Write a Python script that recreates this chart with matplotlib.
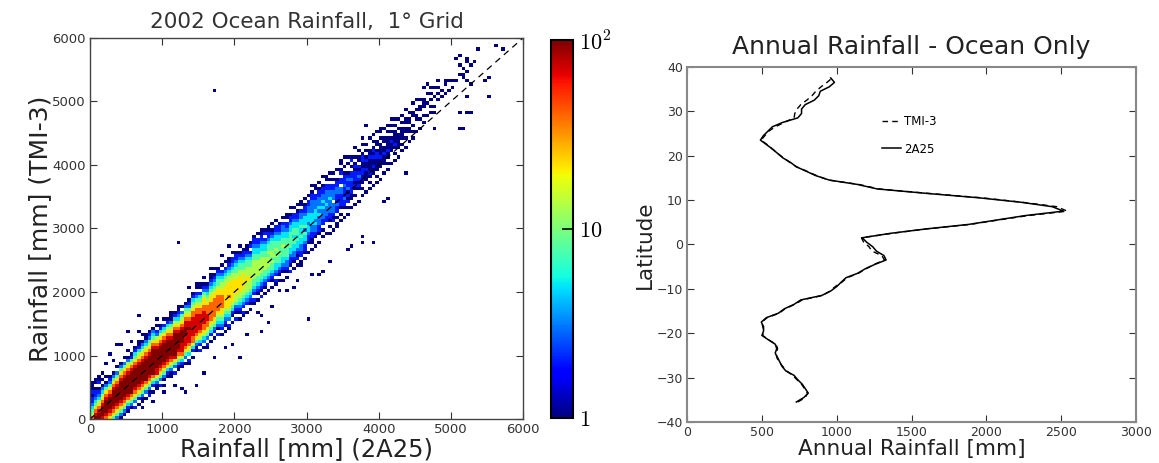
import numpy as np
import matplotlib
matplotlib.use("Agg")
import matplotlib.pyplot as plt
from matplotlib.colors import LogNorm

plt.rcParams["mathtext.fontset"] = "cm"
plt.rcParams["font.family"] = "DejaVu Sans"

# ---- left panel: 2D histogram, 50 mm bins (120 x 120)
bin_edges = np.arange(0, 6001, 50)

# count code
code_counts = {'1': 1, '2': 2, '3': 3, '4': 5, '5': 8, '6': 13,
               '7': 22, '8': 40, '9': 70, 'A': 100}

# one entry per 2A25 column: (first TMI row, codes going up), '.' = empty
band_columns = [
    (0, "8654322121.1"),
    (0, "A987543221.1"),
    (0, "AA98764321.21"),
    (0, "9AAA9876431.1"),
    (0, "89AAAA987531.1"),
    (0, "789AAAA9875321"),
    (0, "5789AAAAA987531"),
    (0, "35789AAAAA98753.1"),
    (0, "135789AAAAAA987531"),
    (1, "135789AAAAAA98753.1"),
    (2, "124689AAAAAA987631"),
    (3, "13578AAAAAAA986521"),
    (3, "2.35789AAAAAA9875421"),
    (4, "1.25789AAAAAA98764211"),
    (5, "1135789AAAAAA9876431.1"),
    (6, "1.3578AAAAAAA98764311"),
    (7, "2135789AAAAAA98765321"),
    (8, "1.2468AAAAAAAA9875431"),
    (9, "1135799AAAAAA987632.1"),
    (10, "2.35789AAAAAA9876421"),
    (10, "1.135789AAAAAA987542.1"),
    (13, "124789AAAAAA9876421"),
    (13, "1135789AAAAA98765311"),
    (14, "2.3579AAAAAAA9876421"),
    (15, "1135789AAAAA98764321"),
    (16, "12468999AAAA987653.1"),
    (17, "1.3578999AAA99876531"),
    (17, "12.46789999A998765321"),
    (19, "1.2468899999988765421"),
    (21, "1135789999998876532.1"),
    (21, "2.24678999998876542.11"),
    (22, "1.3467889999887765321"),
    (22, "12.356788998887654321"),
    (24, "1.24567888888776543211"),
    (25, "1.2356788888877654321.1"),
    (26, "2.13456788888776554321"),
    (26, "1.2345677888877665432.1"),
    (27, "1.1234567777777665432.1"),
    (28, "12.34567778777766543211"),
    (30, "1.1245677777776654322.1"),
    (31, "2.12356677777665543221"),
    (31, "1.12345667777766554321.1"),
    (32, "12.2345667776765543221"),
    (33, "1..2345666776665543211"),
    (34, "1.12345666766655432.21"),
    (36, "12.2345566666655443221"),
    (37, "1.123455666665544322.1"),
    (38, "2.12345566666554432211"),
    (39, "1.1234556666554432.21"),
    (40, "1..234556665655432211"),
    (41, "1.12345565665554321.1"),
    (42, "12.2344556565544322.1"),
    (43, "1.12345556555443221"),
    (43, "1..1234455565544332.1"),
    (44, "1.1233455555544322.11"),
    (46, "2.12234455555443221.1"),
    (47, "1.1233445545544322.1"),
    (48, "1.2123445455443221.1"),
    (48, "11.223344544544332.11"),
    (50, "1.1223445354443221.1"),
    (52, "1..12234434443322.1"),
    (53, "1.11223344443333221.1"),
    (54, "1..12334344433322.11"),
    (55, "1..122333434333221.1"),
    (57, "1.1.2233343433221..1"),
    (58, "1...223334333322.11"),
    (58, "1.1.122333343322.1.1"),
    (59, "1..212333.33322.1.1"),
    (60, "11.1.22322233221..1"),
    (62, "1.1.1222233.22.21.1"),
    (63, "1..122322232221.1..1"),
    (64, "1.1.2121322321..1.1"),
    (66, "1..112222322.1.21"),
    (67, "1..1.121222121.1..1"),
    (68, "1...12123212.11.1"),
    (70, "1.1.1212211221..1.1"),
    (71, "1...11121121.1.1"),
    (72, "1.1.121111211...1"),
    (73, "1...112112121.1.1"),
    (74, "1.1.1111221.11..1"),
    (75, "1...11121111.1.1"),
    (77, "1..111211.11..1"),
    (78, "1.1.1121111.1.1"),
    (80, "1...11121.1.1"),
    (81, "1.1.121111.1.1"),
    (82, "1..11111.1..1"),
    (84, "1.1.1111.1.1"),
    (85, "1..1.11.11..1"),
    (87, "1..11.11.1"),
    (88, "1.1.1..11..1"),
    (90, "1...11.1..1"),
    (91, "1..1..1..1"),
    (93, "1.1..1.1"),
    (95, "1...1..1"),
    (96, "1.1...1"),
    (98, "1..1..1"),
    (100, "1...1.1"),
    (101, "1.1"),
    (102, "1...1"),
    (103, "1..1"),
    (104, "1.1"),
    (106, "1"),
    (107, ".1"),
    (107, "1..1"),
    (109, "1"),
]

# single-count cells away from the band: (2A25 column, TMI row)
outlier_cells = [
    (13, 32), (18, 31), (22, 33), (24, 35), (10, 27), (13, 27), (16, 27),
    (8, 23), (7, 23), (5, 20), (10, 21), (3, 14), (2, 13), (1, 12), (0, 10),
    (4, 17), (6, 18), (11, 24), (20, 31), (27, 41), (29, 42), (24, 55),
    (38, 54), (36, 51), (33, 47), (31, 44),
    (23, 10), (25, 9), (29, 10), (14, 3), (8, 2), (10, 5), (11, 4), (26, 8),
    (31, 14), (34, 19), (41, 19), (39, 23), (43, 26), (47, 27), (47, 32),
    (49, 30), (46, 33), (50, 35), (52, 40), (54, 40), (56, 41), (57, 43),
    (60, 31), (64, 46), (61, 45), (63, 45), (66, 49), (71, 53), (72, 54),
    (75, 55), (78, 55), (75, 57), (37, 22), (20, 8), (17, 5),
    (82, 69), (81, 68), (87, 77), (76, 92), (80, 91), (83, 94), (86, 93),
    (69, 81), (76, 86), (34, 103), (102, 91), (102, 96), (104, 96),
    (110, 101), (104, 101), (109, 106), (110, 107), (99, 106), (101, 106),
    (104, 106), (107, 116), (112, 117), (114, 116), (102, 114), (101, 113),
    (104, 113), (104, 112), (102, 111), (102, 108), (103, 108), (93, 105),
    (94, 104), (92, 104), (96, 102), (93, 102), (98, 105), (105, 105),
    (105, 111), (106, 112), (103, 110), (105, 96), (103, 91), (95, 91),
    (90, 97), (91, 98), (92, 99), (94, 100), (89, 96), (90, 94), (92, 93),
    (95, 96),
]

# ---- right panel: zonal mean annual rainfall [mm]
latitude = [-35.5, -34.5, -33.5, -32.5, -31.5, -30.5, -29.5, -28.5, -27.5,
            -26.5, -25.5, -24.5, -23.5, -22.5, -21.5, -20.5, -19.5, -18.5,
            -17.5, -16.5, -15.5, -14.5, -13.5, -12.5, -11.5, -10.5, -9.5,
            -8.5, -7.5, -6.5, -5.5, -4.5, -3.5, -2.5, -1.5, -0.5, 0.5, 1.5,
            2.5, 3.5, 4.5, 5.5, 6.5, 7.5, 8.5, 9.5, 10.5, 11.5, 12.5, 13.5,
            14.5, 15.5, 16.5, 17.5, 18.5, 19.5, 20.5, 21.5, 22.5, 23.5, 24.5,
            25.5, 26.5, 27.5, 28.5, 29.5, 30.5, 31.5, 32.5, 33.5, 34.5, 35.5,
            36.5, 37.5]
rain_2a25 = [730, 780, 810, 790, 770, 740, 715, 660, 635, 620, 605, 589,
             599, 590, 544, 500, 511, 511, 496, 530, 610, 650, 715, 760,
             900, 960, 1000, 1030, 1062, 1140, 1190, 1255, 1330, 1315, 1265,
             1240, 1200, 1170, 1360, 1600, 1880, 2070, 2260, 2515, 2440,
             2230, 1950, 1600, 1270, 1140, 950, 860, 795, 730, 690, 640, 605,
             570, 530, 490, 510, 540, 570, 640, 740, 765, 765, 790, 850, 880,
             890, 950, 985, 960]
rain_tmi3 = [740, 790, 805, 785, 765, 735, 705, 665, 640, 615, 600, 595,
             605, 595, 545, 505, 515, 505, 500, 535, 615, 655, 720, 770,
             905, 955, 990, 1035, 1070, 1145, 1195, 1250, 1320, 1300, 1235,
             1215, 1180, 1165, 1370, 1600, 1890, 2080, 2280, 2540, 2470,
             2240, 1970, 1610, 1280, 1150, 945, 865, 800, 730, 685, 645, 605,
             570, 535, 495, 520, 545, 590, 650, 715, 720, 735, 760, 800, 835,
             860, 895, 935, 970]

# build the count grid (rows = TMI bins, cols = 2A25 bins)
counts = np.zeros((120, 120))
for col, (start, codes) in enumerate(band_columns):
    for k, ch in enumerate(codes):
        if ch != '.':
            counts[start + k, col] = code_counts[ch]
for col, row in outlier_cells:
    if counts[row, col] == 0:
        counts[row, col] = 1
counts = np.ma.masked_equal(counts, 0)

fig = plt.figure(figsize=(11.59, 4.63), dpi=100)

ax1 = fig.add_axes([0.0777, 0.095, 0.3736, 0.823])
mesh = ax1.pcolormesh(bin_edges, bin_edges, counts, cmap="jet",
                      norm=LogNorm(vmin=1, vmax=100))
ax1.plot([0, 6000], [0, 6000], "k--", lw=0.9, dashes=(5, 4))
ax1.set_xlim(0, 6000)
ax1.set_ylim(0, 6000)
ax1.set_xticks(range(0, 6001, 1000))
ax1.set_yticks(range(0, 6001, 1000))
ax1.tick_params(direction="in", top=True, right=True, length=5,
                labelsize=9.5, colors="#333333", pad=3)
for s in ax1.spines.values():
    s.set_color("#444444")
    s.set_linewidth(1.0)
ax1.set_title("2002 Ocean Rainfall,  1\u00b0 Grid", fontsize=15.5,
              color="#333333", pad=7)
ax1.set_xlabel("Rainfall [mm] (2A25)", fontsize=17.5, color="#222222",
               labelpad=1)
ax1.set_ylabel("Rainfall [mm] (TMI-3)", fontsize=18, color="#222222",
               labelpad=0)

cax = fig.add_axes([0.4754, 0.0972, 0.019, 0.816])
cbar = fig.colorbar(mesh, cax=cax)
cbar.set_ticks([1, 10, 100])
cbar.set_ticklabels([r"$1$", r"$10$", r"$10^2$"])
cbar.ax.minorticks_off()
cbar.ax.tick_params(direction="in", length=8, width=1.2, labelsize=16, pad=4)
cbar.outline.set_linewidth(1.5)

ax2 = fig.add_axes([0.5928, 0.0886, 0.3874, 0.767])
ax2.plot(rain_tmi3, latitude, "k--", lw=1.0, dashes=(4, 3), label="TMI-3")
ax2.plot(rain_2a25, latitude, "k-", lw=1.1, label="2A25")
ax2.set_xlim(0, 3000)
ax2.set_ylim(-40, 40)
ax2.set_xticks(range(0, 3001, 500))
ax2.set_yticks(range(-40, 41, 10))
ax2.tick_params(direction="in", top=True, right=True, length=5,
                labelsize=9, colors="#333333", pad=3)
for s in ax2.spines.values():
    s.set_color("#888888")
    s.set_linewidth(1.5)
ax2.set_title("Annual Rainfall - Ocean Only", fontsize=18,
              color="#222222", pad=9)
ax2.set_xlabel("Annual Rainfall [mm]", fontsize=15.5, color="#222222",
               labelpad=0)
ax2.set_ylabel("Latitude", fontsize=15.5, color="#222222", labelpad=1)
ax2.legend(loc="upper left", bbox_to_anchor=(0.41, 0.895), frameon=False,
           fontsize=8.5, handlelength=1.6, labelspacing=1.25,
           handletextpad=0.3)

fig.savefig("out.png", dpi=100)
